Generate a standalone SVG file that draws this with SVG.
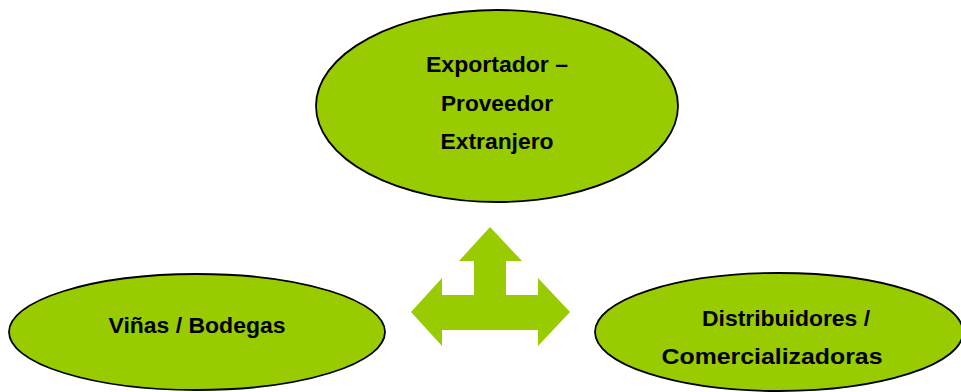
<svg xmlns="http://www.w3.org/2000/svg" width="961" height="392" viewBox="0 0 961 392">
<style>
.node{fill:#99CC00;stroke:#000;stroke-width:1.8}
.t{font-family:"Liberation Sans",Arial,sans-serif;font-weight:bold;font-size:22.5px;fill:#000;text-anchor:middle}
.arrow{fill:#99CC00}
</style>
<rect width="961" height="392" fill="#fff"/>
<g id="node-exportador">
<ellipse class="node" cx="497" cy="106" rx="181" ry="96"/>
<text class="t" x="497" y="72" textLength="142" lengthAdjust="spacingAndGlyphs">Exportador –</text>
<text class="t" x="497" y="111" textLength="112" lengthAdjust="spacingAndGlyphs">Proveedor</text>
<text class="t" x="497" y="149" textLength="113" lengthAdjust="spacingAndGlyphs">Extranjero</text>
</g>
<g id="node-vinas">
<ellipse class="node" cx="197" cy="332" rx="188" ry="58"/>
<text class="t" x="197" y="333" textLength="177" lengthAdjust="spacingAndGlyphs">Viñas / Bodegas</text>
</g>
<g id="node-distribuidores">
<ellipse class="node" cx="779" cy="332" rx="184" ry="59"/>
<text class="t" x="786" y="326" textLength="168" lengthAdjust="spacingAndGlyphs">Distribuidores /</text>
<text class="t" x="772" y="364" textLength="221" lengthAdjust="spacingAndGlyphs">Comercializadoras</text>
</g>
<g id="connectors">
<polygon class="arrow" points="490,227 522,261 506,261 506,295 538,295 538,278 570,312 538,346 538,330 442,330 442,346 411,312 442,278 442,295 474,295 474,261 459,261"/>
</g>
</svg>
